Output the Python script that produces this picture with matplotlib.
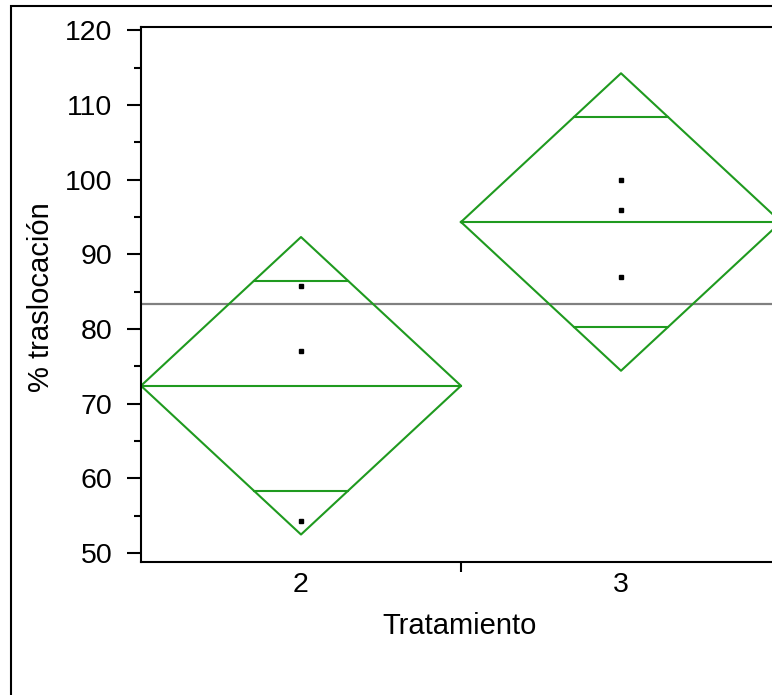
import numpy as np
import matplotlib
matplotlib.use("Agg")
import matplotlib.pyplot as plt
from matplotlib.patches import Rectangle

plt.rcParams["font.family"] = ["Liberation Sans", "DejaVu Sans"]

# Datos (% traslocación por tratamiento)
tratamientos = [2, 3]
valores_t2 = [85.8, 77.1, 54.3]
valores_t3 = [100.0, 96.0, 87.0]
t_975_gl4 = 2.776  # cuantil t para IC 95 % con 4 gl

grupos = [np.array(valores_t2), np.array(valores_t3)]
medias = [g.mean() for g in grupos]
n_por_grupo = len(valores_t2)
ss = sum(((g - g.mean()) ** 2).sum() for g in grupos)
gl = sum(len(g) for g in grupos) - len(grupos)
mse = ss / gl
semi_ic = t_975_gl4 * np.sqrt(mse / n_por_grupo)
media_global = np.concatenate(grupos).mean()

verde = "#1f9a1f"

fig = plt.figure(figsize=(7.72, 6.95), dpi=100)
ax = fig.add_axes([141 / 772, 1 - 562 / 695, 640 / 772, 535 / 695])

# línea de la media global
ax.axhline(media_global, color="#808080", lw=1.6, zorder=1)

for x, m in zip(tratamientos, medias):
    # diamante de medias
    xs = [x - 0.5, x, x + 0.5, x, x - 0.5]
    ys = [m, m + semi_ic, m, m - semi_ic, m]
    ax.plot(xs, ys, color=verde, lw=1.5, zorder=2)
    ax.plot([x - 0.5, x + 0.5], [m, m], color=verde, lw=1.5, zorder=2)
    # marcas de solapamiento
    d = semi_ic / np.sqrt(2)
    w = 0.5 * (1 - 1 / np.sqrt(2))
    for yy in (m + d, m - d):
        ax.plot([x - w, x + w], [yy, yy], color=verde, lw=1.5, zorder=2)

for x, g in zip(tratamientos, grupos):
    ax.plot([x] * len(g), g, "s", color="black", ms=3, zorder=3)

ax.set_xlim(1.5, 3.5)
ax.set_ylim(48.8, 120.45)

ax.set_yticks(np.arange(50, 121, 10))
ax.set_yticks(np.arange(55, 120, 10), minor=True)
ax.tick_params(axis="y", which="major", length=10, width=1.5, labelsize=20.5, pad=10.5)
ax.tick_params(axis="y", which="minor", length=5, width=1.5)

ax.set_xticks([2.5, 3.5])
ax.set_xticklabels([])
ax.set_xticks(tratamientos, minor=True)
ax.set_xticklabels([str(t) for t in tratamientos], minor=True)
ax.tick_params(axis="x", which="major", length=7, width=1.5)
ax.tick_params(axis="x", which="minor", length=0, labelsize=20.5, pad=7)

for s in ax.spines.values():
    s.set_linewidth(1.5)

ax.set_ylabel("% traslocación", fontsize=21, va="center")
ax.yaxis.set_label_coords(-0.156, 0.495)
ax.set_xlabel("Tratamiento", fontsize=21, va="center")
ax.xaxis.set_label_coords(0.4985, -0.1198)

# marco exterior del informe
fig.patches.append(Rectangle((11 / 772, -0.1), 1.2, 0.1 + (1 - 6 / 695),
                             transform=fig.transFigure, fill=False,
                             lw=1.5, edgecolor="black"))

fig.savefig("out.png", dpi=100)
